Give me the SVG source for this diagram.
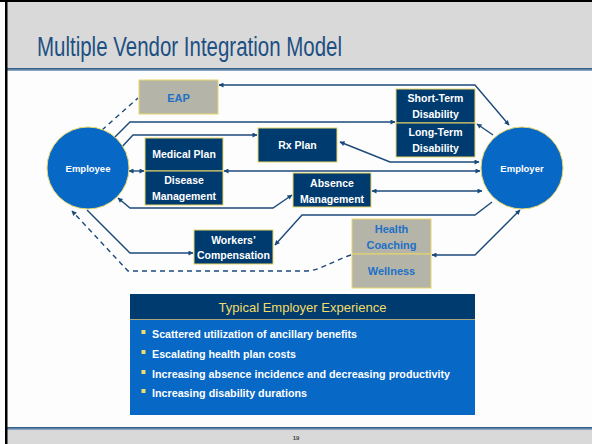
<svg xmlns="http://www.w3.org/2000/svg" width="592" height="444" viewBox="0 0 592 444">
<defs>
<style>
.ln{fill:none;stroke:#1b4a7a;stroke-width:1.4}
.dash{fill:none;stroke:#1b4a7a;stroke-width:1.4;stroke-dasharray:5 4}
.dark{fill:#003b6f;stroke:#e8d66a;stroke-width:1}
.gray{fill:#b4b4a9;stroke:#e8d66a;stroke-width:1}
.circ{fill:#0768c6;stroke:#e8d66a;stroke-width:1}
.wt{font-family:"Liberation Sans",Arial,sans-serif;font-weight:bold;font-size:10.5px;fill:#ffffff;text-anchor:middle}
.bt{font-family:"Liberation Sans",Arial,sans-serif;font-weight:bold;font-size:11px;fill:#2170c6;text-anchor:middle}
.ct{font-family:"Liberation Sans",Arial,sans-serif;font-weight:bold;font-size:9.5px;fill:#ffffff;text-anchor:middle}
.bl{font-family:"Liberation Sans",Arial,sans-serif;font-weight:bold;font-size:10.5px;fill:#ffffff}
</style>
<marker id="ah" viewBox="0 0 10 10" refX="9" refY="5" markerWidth="6" markerHeight="5" markerUnits="userSpaceOnUse" orient="auto-start-reverse">
<path d="M0,0 L10,5 L0,10 Z" fill="#1b4a7a"/>
</marker>
<linearGradient id="hl" x1="0" y1="0" x2="0" y2="1">
<stop offset="0" stop-color="#1f4f7a"/>
<stop offset="1" stop-color="#9fb7cf"/>
</linearGradient>
</defs>

<!-- slide frame -->
<rect x="0" y="0" width="592" height="444" fill="#fdfdfd"/>
<rect x="6" y="0" width="586" height="69" fill="#d9d9d9"/>
<rect x="6" y="68" width="586" height="3" fill="url(#hl)"/>
<rect x="6" y="427" width="586" height="3" fill="url(#hl)"/>
<rect x="6" y="430" width="586" height="14" fill="#d9d9d9"/>
<rect x="0" y="0" width="592" height="2" fill="#000"/>
<rect x="5" y="0" width="2.5" height="444" fill="#000"/>
<text x="37" y="56" font-family="Liberation Sans, Arial, sans-serif" font-size="27" fill="#1d4f82" textLength="305" lengthAdjust="spacingAndGlyphs">Multiple Vendor Integration Model</text>
<text x="296" y="440" font-family="Liberation Sans, Arial, sans-serif" font-size="6" font-weight="bold" fill="#444" text-anchor="middle">19</text>

<!-- connectors -->
<g id="connectors">
<path class="dash" d="M102,130 L138,98"/>
<path class="ln" d="M509,125 L475,85 L219,85" marker-start="url(#ah)" marker-end="url(#ah)"/>
<path class="ln" d="M114,138 L130,122 L395,122" marker-end="url(#ah)"/>
<path class="ln" d="M120,149 L133,135 L257,135" marker-end="url(#ah)"/>
<path class="ln" d="M340,142 L390,162 L479,162" marker-start="url(#ah)" marker-end="url(#ah)"/>
<path class="ln" d="M493,135 L477,124" marker-end="url(#ah)"/>
<path class="ln" d="M129,171 L144,171" marker-start="url(#ah)" marker-end="url(#ah)"/>
<path class="ln" d="M224,171 L480,171" marker-start="url(#ah)" marker-end="url(#ah)"/>
<path class="ln" d="M372,191 L482,191" marker-start="url(#ah)" marker-end="url(#ah)"/>
<path class="ln" d="M292,195 L273,208 L130,208 L118,198" marker-start="url(#ah)" marker-end="url(#ah)"/>
<path class="ln" d="M87,210 L130,253 L193,253" marker-end="url(#ah)"/>
<path class="ln" d="M492,202 L475,215 L302,215 L275,245" marker-end="url(#ah)"/>
<path class="ln" d="M520,210 L475,255 L432,255" marker-start="url(#ah)" marker-end="url(#ah)"/>
<path class="dash" d="M351,255 C330,262 320,271 305,271 L128,271 L72,211" marker-end="url(#ah)"/>
</g>

<g id="employee">
<circle class="circ" cx="88" cy="168" r="41"/>
<text class="ct" x="88" y="171.5">Employee</text>
</g>
<g id="employer">
<circle class="circ" cx="522" cy="168" r="41"/>
<text class="ct" x="522" y="171.5">Employer</text>
</g>
<g id="eap">
<rect class="gray" x="139" y="80" width="79" height="34"/>
<text class="bt" x="178.5" y="102">EAP</text>
</g>
<g id="disability">
<rect class="dark" x="396" y="89" width="79" height="34"/>
<rect class="dark" x="396" y="123" width="79" height="34"/>
<text class="wt" x="435.5" y="102">Short-Term</text>
<text class="wt" x="435.5" y="118">Disability</text>
<text class="wt" x="435.5" y="136">Long-Term</text>
<text class="wt" x="435.5" y="152">Disability</text>
</g>
<g id="rx-plan">
<rect class="dark" x="258" y="128" width="79" height="34"/>
<text class="wt" x="297.5" y="148.5">Rx Plan</text>
</g>
<g id="medical">
<rect class="dark" x="145" y="138" width="78" height="33"/>
<rect class="dark" x="145" y="171" width="78" height="34"/>
<text class="wt" x="184" y="158">Medical Plan</text>
<text class="wt" x="184" y="184">Disease</text>
<text class="wt" x="184" y="200">Management</text>
</g>
<g id="absence">
<rect class="dark" x="293" y="173" width="78" height="34"/>
<text class="wt" x="332" y="187">Absence</text>
<text class="wt" x="332" y="203">Management</text>
</g>
<g id="workers">
<rect class="dark" x="194" y="230" width="79" height="34"/>
<text class="wt" x="233.5" y="243.5">Workers’</text>
<text class="wt" x="233.5" y="259">Compensation</text>
</g>
<g id="health">
<rect class="gray" x="352" y="219" width="79" height="35"/>
<rect class="gray" x="352" y="254" width="79" height="34"/>
<text class="bt" x="391.5" y="233">Health</text>
<text class="bt" x="391.5" y="249">Coaching</text>
<text class="bt" x="391.5" y="275">Wellness</text>
</g>
<g id="experience">
<rect x="130" y="294" width="345" height="121" fill="#0768c6"/>
<rect x="130" y="294" width="345" height="25" fill="#003b6f"/>
<rect x="130" y="319" width="345" height="1" fill="#a8a778"/>
<text x="302.5" y="312" font-family="Liberation Sans, Arial, sans-serif" font-size="13" fill="#f2dc6a" text-anchor="middle" textLength="168" lengthAdjust="spacingAndGlyphs">Typical Employer Experience</text>
<rect x="141.5" y="330" width="4" height="4" fill="#f2dc6a"/>
<rect x="141.5" y="350" width="4" height="4" fill="#f2dc6a"/>
<rect x="141.5" y="370" width="4" height="4" fill="#f2dc6a"/>
<rect x="141.5" y="389" width="4" height="4" fill="#f2dc6a"/>
<text class="bl" x="152" y="338" textLength="205" lengthAdjust="spacingAndGlyphs">Scattered utilization of ancillary benefits</text>
<text class="bl" x="152" y="358" textLength="144" lengthAdjust="spacingAndGlyphs">Escalating health plan costs</text>
<text class="bl" x="152" y="378" textLength="298" lengthAdjust="spacingAndGlyphs">Increasing absence incidence and decreasing productivity</text>
<text class="bl" x="152" y="397" textLength="155" lengthAdjust="spacingAndGlyphs">Increasing disability durations</text>
</g>
</svg>
